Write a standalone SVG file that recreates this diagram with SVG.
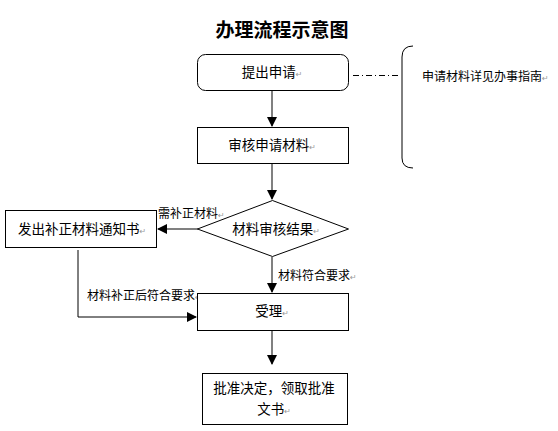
<svg xmlns="http://www.w3.org/2000/svg" width="558" height="431" viewBox="0 0 558 431">
<style>
.t{font-family:"Noto Sans CJK SC","Liberation Sans",sans-serif;font-size:13.5px;fill:#000}
.s{font-family:"Noto Sans CJK SC","Liberation Sans",sans-serif;font-size:12px;fill:#000}
.pm{font-family:"DejaVu Sans",sans-serif;font-size:8px;fill:#999}
.box{fill:#fff;stroke:#000;stroke-width:1}
.gl{stroke:#808080;stroke-width:2;fill:none}
.bl{stroke:#000;stroke-width:1;fill:none}
</style>
<defs>
<marker id="ah" viewBox="0 0 10 10" refX="9" refY="5" markerWidth="10" markerHeight="10" markerUnits="userSpaceOnUse" orient="auto">
<path d="M0,0 L10,5 L0,10 z" fill="#000"/>
</marker>
</defs>
<rect width="558" height="431" fill="#fff"/>
<text x="282" y="37" text-anchor="middle" style="font-family:'Noto Sans CJK SC',sans-serif;font-size:19px;font-weight:bold">办理流程示意图</text>
<g id="connectors">
<line class="gl" x1="272" y1="91" x2="272" y2="126" marker-end="url(#ah)"/>
<line class="gl" x1="272" y1="164" x2="272" y2="199" marker-end="url(#ah)"/>
<line class="gl" x1="198" y1="229" x2="158" y2="229" marker-end="url(#ah)"/>
<line class="gl" x1="272" y1="257" x2="272" y2="292" marker-end="url(#ah)"/>
<line class="gl" x1="272" y1="331" x2="272" y2="364" marker-end="url(#ah)"/>
<polyline class="bl" points="78,250 78,317 196,317" marker-end="url(#ah)"/>
<line stroke="#000" stroke-width="1" stroke-dasharray="6,3,1,3" x1="353" y1="75.5" x2="401" y2="75.5"/>
<path class="bl" d="M413,46 Q402,46 402,57 L402,158 Q402,168 413,168"/>
<text class="s" x="158" y="218">需补正材料<tspan class="pm">↵</tspan></text>
<text class="s" x="278" y="280">材料符合要求<tspan class="pm">↵</tspan></text>
<text class="s" x="87" y="300">材料补正后符合要求<tspan class="pm">↵</tspan></text>
</g>
<g id="n1">
<rect class="box" x="197.5" y="54.5" width="151" height="36" rx="8"/>
<text class="t" x="272" y="77" text-anchor="middle">提出申请<tspan class="pm">↵</tspan></text>
</g>
<g id="note">
<text class="s" x="422" y="81">申请材料详见办事指南<tspan class="pm">↵</tspan></text>
</g>
<g id="n2">
<rect class="box" x="197.5" y="127.5" width="151" height="36"/>
<text class="t" x="272" y="150" text-anchor="middle">审核申请材料<tspan class="pm">↵</tspan></text>
</g>
<g id="n3">
<polygon class="box" points="272.5,200.5 348.5,229 272.5,256.5 197.5,229"/>
<text class="t" x="276" y="234" text-anchor="middle">材料审核结果<tspan class="pm">↵</tspan></text>
</g>
<g id="n4">
<rect class="box" x="5.5" y="210.5" width="151" height="37"/>
<text class="t" x="82" y="234" text-anchor="middle">发出补正材料通知书<tspan class="pm">↵</tspan></text>
</g>
<g id="n5">
<rect class="box" x="197.5" y="293.5" width="151" height="37"/>
<text class="t" x="272" y="316" text-anchor="middle">受理<tspan class="pm">↵</tspan></text>
</g>
<g id="n6">
<rect class="box" x="202.5" y="373.5" width="145" height="51"/>
<text class="t" x="274" y="393" text-anchor="middle">批准决定，领取批准</text>
<text class="t" x="274" y="414" text-anchor="middle">文书<tspan class="pm">↵</tspan></text>
</g>
</svg>
